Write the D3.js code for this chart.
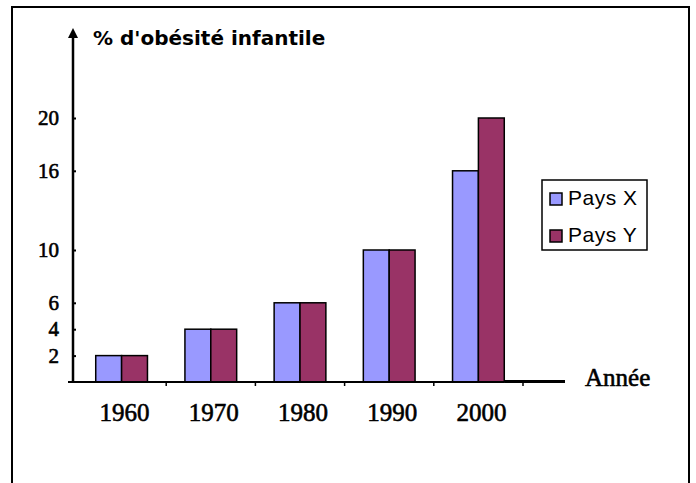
<!DOCTYPE html>
<html>
<head>
<meta charset="utf-8">
<script src="https://cdn.jsdelivr.net/npm/d3@7"></script>
<style>
    body { margin: 0; background: #fff; }
    .ylab text { font-family: "Liberation Serif", serif; font-size: 21px; stroke: #000; stroke-width: 0.6px; }
    .xlab { font-family: "Liberation Serif", serif; font-size: 25px; stroke: #000; stroke-width: 0.6px; }
</style>
</head>
<body>
<svg class="chart"></svg>
<script>
var years = ["1960", "1970", "1980", "1990", "2000"];
var series = ["Pays X", "Pays Y"];
var paysX = [2, 4, 6, 10, 16];
var paysY = [2, 4, 6, 10, 20];
var yTicks = [2, 4, 6, 10, 16, 20];
var colors = ["#9999ff", "#993366"];

function show() {
    'use strict';

    var width = 696, height = 483;

    var svg = d3.select(".chart")
        .attr("width", width)
        .attr("height", height);

    // outer frame (bottom edge runs off the picture)
    svg.append("rect")
        .attr("x", 12).attr("y", 7)
        .attr("width", 677).attr("height", 500)
        .attr("fill", "none")
        .attr("stroke", "#000")
        .attr("stroke-width", 2);

    var x0 = d3.scaleBand()
        .domain(years)
        .range([77, 523])
        .paddingInner(0.42)
        .paddingOuter(0.21);

    var x1 = d3.scaleBand()
        .domain(series)
        .range([0, x0.bandwidth()]);

    var y = d3.scaleLinear()
        .domain([0, 20])
        .range([382, 118]);

    var rows = years.map(function(yr, i) {
        return { year: yr, values: [paysX[i], paysY[i]] };
    });

    // bars
    var groups = svg.selectAll("g.year").data(rows)
        .enter().append("g")
        .attr("class", "year")
        .attr("transform", function(d) { return "translate(" + x0(d.year) + ",0)"; });

    groups.selectAll("rect").data(function(d) { return d.values; })
        .enter().append("rect")
        .attr("x", function(d, i) { return x1(series[i]); })
        .attr("y", function(d) { return y(d); })
        .attr("width", x1.bandwidth())
        .attr("height", function(d) { return y(0) - y(d); })
        .attr("fill", function(d, i) { return colors[i]; })
        .attr("stroke", "#000")
        .attr("stroke-width", 1.5);

    // x axis line and ticks between the years
    var lastBar = x0(years[years.length - 1]) + x0.bandwidth();
    svg.append("line")
        .attr("x1", 68).attr("x2", lastBar)
        .attr("y1", y(0)).attr("y2", y(0))
        .attr("stroke", "#000").attr("stroke-width", 2);
    svg.append("line")
        .attr("x1", lastBar).attr("x2", 565)
        .attr("y1", y(0) - 0.5).attr("y2", y(0) - 0.5)
        .attr("stroke", "#000").attr("stroke-width", 3);

    var step = x0.step();
    svg.selectAll("line.xtick").data(years)
        .enter().append("line")
        .attr("class", "xtick")
        .attr("x1", function(d) { return x0(d) - x0.paddingOuter() * step + step; })
        .attr("x2", function(d) { return x0(d) - x0.paddingOuter() * step + step; })
        .attr("y1", y(0)).attr("y2", y(0) + 4)
        .attr("stroke", "#000").attr("stroke-width", 1.5);

    svg.selectAll("text.xlab").data(years)
        .enter().append("text")
        .attr("class", "xlab")
        .attr("x", function(d) { return x0(d) + x0.bandwidth() / 2 + 3; })
        .attr("y", 421)
        .attr("text-anchor", "middle")
        .text(function(d) { return d; });

    svg.append("text")
        .attr("class", "xlab")
        .attr("x", 585).attr("y", 386)
        .text("Année");

    // y axis with arrow
    var yAxis = d3.axisLeft(y)
        .tickValues(yTicks)
        .tickSize(11)
        .tickPadding(3);

    var ag = svg.append("g")
        .attr("class", "ylab")
        .attr("transform", "translate(73,0)")
        .call(yAxis);
    ag.select(".domain").remove();
    ag.selectAll(".tick line").attr("stroke-width", 2).attr("x2", 3);
    ag.selectAll(".tick text").attr("fill", "#000");

    svg.append("line")
        .attr("x1", 73).attr("x2", 73)
        .attr("y1", 34).attr("y2", y(0) + 1)
        .attr("stroke", "#000").attr("stroke-width", 2.5);

    svg.append("path")
        .attr("d", "M73,28 L68,38 L78,38 Z")
        .attr("fill", "#000");

    svg.append("text")
        .attr("x", 93).attr("y", 45)
        .style("font-family", "'DejaVu Sans', sans-serif")
        .style("font-size", "20px")
        .style("font-weight", "bold")
        .text("% d'obésité infantile");

    // legend
    var legend = svg.append("g").attr("transform", "translate(542,180)");
    legend.append("rect")
        .attr("width", 105).attr("height", 70)
        .attr("fill", "#fff")
        .attr("stroke", "#000").attr("stroke-width", 1.5);

    var items = legend.selectAll("g.item").data(series)
        .enter().append("g")
        .attr("class", "item")
        .attr("transform", function(d, i) { return "translate(8," + (13 + i * 37) + ")"; });

    items.append("rect")
        .attr("width", 12).attr("height", 12)
        .attr("fill", function(d, i) { return colors[i]; })
        .attr("stroke", "#000").attr("stroke-width", 1.5);

    items.append("text")
        .attr("x", 18).attr("y", 12)
        .style("font-family", "'Liberation Sans', Arial, sans-serif")
        .style("font-size", "21px")
        .style("letter-spacing", "0.5px")
        .text(function(d) { return d; });
}

show();
</script>
</body>
</html>
